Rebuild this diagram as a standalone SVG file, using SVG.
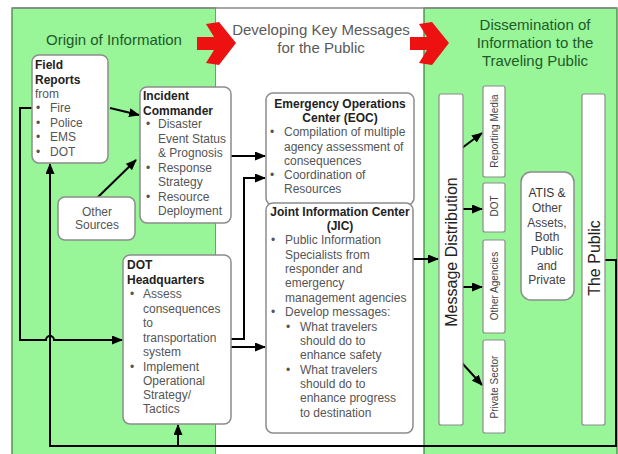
<svg xmlns="http://www.w3.org/2000/svg" width="618" height="454" viewBox="0 0 618 454">
<defs>
<style>
.panel-g{fill:#98f598;stroke:#3d7a3d;stroke-width:1.2}
.panel-w{fill:#ffffff;stroke:none}
.box{fill:#ffffff;stroke:#8c8c8c;stroke-width:1.5}
.bar{fill:#ffffff;stroke:#8c8c8c;stroke-width:1.2}
.t{font-family:"Liberation Sans",Arial,sans-serif;font-size:12px;fill:#555}
.b{font-family:"Liberation Sans",Arial,sans-serif;font-size:12px;font-weight:bold;fill:#222}
.title-g{font-family:"Liberation Sans",Arial,sans-serif;font-size:15px;fill:#1f5a2a}
.title-m{font-family:"Liberation Sans",Arial,sans-serif;font-size:15px;fill:#5a5a5a}
.vert{font-family:"Liberation Sans",Arial,sans-serif;font-size:16px;fill:#222}
.small{font-family:"Liberation Sans",Arial,sans-serif;font-size:10px;fill:#444}
.c{text-anchor:middle}
.conn{fill:none;stroke:#000;stroke-width:2}
.red{fill:#ee1111;stroke:none}
</style>
<marker id="ah" markerUnits="userSpaceOnUse" markerWidth="11" markerHeight="9" refX="10" refY="4.5" orient="auto">
<path d="M0,0 L11,4.5 L0,9 z" fill="#000"/>
</marker>
</defs>

<!-- panels -->
<g id="panels">
<rect x="0" y="0" width="618" height="454" fill="#ffffff"/>
<rect class="panel-g" x="12" y="8" width="204" height="450"/>
<rect class="panel-w" x="216" y="8" width="208" height="450"/>
<rect class="panel-g" x="424" y="8" width="193" height="450"/>
<line x1="12" y1="8" x2="617" y2="8" stroke="#888" stroke-width="1.5"/>
</g>

<!-- titles -->
<g id="titles">
<text class="title-g c" x="114" y="45">Origin of Information</text>
<text class="title-m c" x="321" y="35">Developing Key Messages</text>
<text class="title-m c" x="321" y="53">for the Public</text>
<text class="title-g c" x="535" y="30">Dissemination of</text>
<text class="title-g c" x="535" y="48">Information to the</text>
<text class="title-g c" x="535" y="66">Traveling Public</text>
</g>

<!-- red arrows -->
<g id="red-arrows">
<polygon class="red" points="197,37 214,37 206,24 219,22 236,43 219,65 206,63 214,50 197,50"/>
<polygon class="red" points="410,37 427,37 419,24 432,22 449,43 432,65 419,63 427,50 410,50"/>
</g>

<!-- connectors -->
<g id="connectors">
<line class="conn" x1="110" y1="108" x2="139" y2="115" marker-end="url(#ah)"/>
<line class="conn" x1="97" y1="198" x2="136" y2="160" marker-end="url(#ah)"/>
<path class="conn" d="M32,108 H20 V340 H46 a4,4 0 0 1 8,0 H122" marker-end="url(#ah)"/>
<path class="conn" d="M605,260 H616 V446 H50 V164" marker-end="url(#ah)"/>
<line class="conn" x1="178" y1="446" x2="178" y2="425" marker-end="url(#ah)"/>
<line class="conn" x1="231" y1="156" x2="265" y2="156" marker-end="url(#ah)"/>
<path class="conn" d="M231,339 H244 V178 H265" marker-end="url(#ah)"/>
<line class="conn" x1="231" y1="347" x2="265" y2="347" marker-end="url(#ah)"/>
<line class="conn" x1="413" y1="259" x2="438" y2="259" marker-end="url(#ah)"/>
<line class="conn" x1="462" y1="148" x2="482" y2="133" marker-end="url(#ah)"/>
<line class="conn" x1="463" y1="209" x2="482" y2="209" marker-end="url(#ah)"/>
<line class="conn" x1="463" y1="287" x2="482" y2="287" marker-end="url(#ah)"/>
<line class="conn" x1="462" y1="363" x2="482" y2="385" marker-end="url(#ah)"/>
</g>

<!-- Field Reports -->
<g id="field-reports">
<rect class="box" x="32" y="55" width="76" height="108" rx="7"/>
<text class="b" x="35" y="69">Field</text>
<text class="b" x="35" y="84">Reports</text>
<text class="t" x="35" y="98">from</text>
<text class="t" x="36" y="112">•</text><text class="t" x="50" y="112">Fire</text>
<text class="t" x="36" y="127">•</text><text class="t" x="50" y="127">Police</text>
<text class="t" x="36" y="141">•</text><text class="t" x="50" y="141">EMS</text>
<text class="t" x="36" y="156">•</text><text class="t" x="50" y="156">DOT</text>
</g>

<!-- Incident Commander -->
<g id="incident-commander">
<rect class="box" x="140" y="87" width="91" height="136" rx="7"/>
<text class="b" x="143" y="100">Incident</text>
<text class="b" x="143" y="115">Commander</text>
<text class="t" x="146" y="128">•</text><text class="t" x="158" y="128">Disaster</text>
<text class="t" x="158" y="143">Event Status</text>
<text class="t" x="158" y="157">&amp; Prognosis</text>
<text class="t" x="146" y="172">•</text><text class="t" x="158" y="172">Response</text>
<text class="t" x="158" y="186">Strategy</text>
<text class="t" x="146" y="201">•</text><text class="t" x="158" y="201">Resource</text>
<text class="t" x="158" y="215">Deployment</text>
</g>

<!-- Other Sources -->
<g id="other-sources">
<rect class="box" x="58" y="197" width="77" height="43" rx="7"/>
<text class="t c" x="97" y="216">Other</text>
<text class="t c" x="97" y="229">Sources</text>
</g>

<!-- DOT Headquarters -->
<g id="dot-hq">
<rect class="box" x="123" y="255" width="108" height="169" rx="7"/>
<text class="b" x="127" y="269">DOT</text>
<text class="b" x="127" y="284">Headquarters</text>
<text class="t" x="130" y="298">•</text><text class="t" x="143" y="298">Assess</text>
<text class="t" x="143" y="313">consequences</text>
<text class="t" x="143" y="327">to</text>
<text class="t" x="143" y="342">transportation</text>
<text class="t" x="143" y="356">system</text>
<text class="t" x="130" y="371">•</text><text class="t" x="143" y="371">Implement</text>
<text class="t" x="143" y="385">Operational</text>
<text class="t" x="143" y="399">Strategy/</text>
<text class="t" x="143" y="413">Tactics</text>
</g>

<!-- EOC -->
<g id="eoc">
<rect class="box" x="266" y="93" width="148" height="112" rx="7"/>
<text class="b c" x="340" y="108">Emergency Operations</text>
<text class="b c" x="340" y="122">Center (EOC)</text>
<text class="t" x="270" y="136">•</text><text class="t" x="284" y="136">Compilation of multiple</text>
<text class="t" x="284" y="151">agency assessment of</text>
<text class="t" x="284" y="165">consequences</text>
<text class="t" x="270" y="179">•</text><text class="t" x="284" y="179">Coordination of</text>
<text class="t" x="284" y="193">Resources</text>
</g>

<!-- JIC -->
<g id="jic">
<rect class="box" x="266" y="203" width="147" height="230" rx="7"/>
<text class="b c" x="340" y="216">Joint Information Center</text>
<text class="b c" x="340" y="230">(JIC)</text>
<text class="t" x="271" y="244">•</text><text class="t" x="285" y="244">Public Information</text>
<text class="t" x="285" y="259">Specialists from</text>
<text class="t" x="285" y="273">responder and</text>
<text class="t" x="285" y="287">emergency</text>
<text class="t" x="285" y="302">management agencies</text>
<text class="t" x="271" y="316">•</text><text class="t" x="285" y="316">Develop messages:</text>
<text class="t" x="286" y="331">•</text><text class="t" x="300" y="331">What travelers</text>
<text class="t" x="300" y="345">should do to</text>
<text class="t" x="300" y="359">enhance safety</text>
<text class="t" x="286" y="374">•</text><text class="t" x="300" y="374">What travelers</text>
<text class="t" x="300" y="388">should do to</text>
<text class="t" x="300" y="402">enhance progress</text>
<text class="t" x="300" y="417">to destination</text>
</g>

<!-- Message Distribution -->
<g id="message-distribution">
<rect class="bar" x="439" y="94" width="24" height="331" rx="2"/>
<text class="vert c" x="457" y="252" transform="rotate(-90 457 252)">Message Distribution</text>
</g>

<!-- Channels -->
<g id="reporting-media">
<rect class="bar" x="483" y="86" width="22" height="91" rx="2"/>
<text class="small c" x="497.5" y="131" transform="rotate(-90 497.5 131)">Reporting Media</text>
</g>
<g id="dot-channel">
<rect class="bar" x="483" y="183" width="22" height="49" rx="2"/>
<text class="small c" x="497.5" y="206" transform="rotate(-90 497.5 206)">DOT</text>
</g>
<g id="other-agencies">
<rect class="bar" x="483" y="240" width="22" height="93" rx="2"/>
<text class="small c" x="497.5" y="286" transform="rotate(-90 497.5 286)">Other Agencies</text>
</g>
<g id="private-sector">
<rect class="bar" x="483" y="340" width="22" height="93" rx="2"/>
<text class="small c" x="497.5" y="387" transform="rotate(-90 497.5 387)">Private Sector</text>
</g>

<!-- ATIS -->
<g id="atis">
<rect class="box" x="521" y="172" width="53" height="128" rx="10"/>
<text class="t c" x="547" y="197" style="fill:#333">ATIS &amp;</text>
<text class="t c" x="547" y="212" style="fill:#444">Other</text>
<text class="t c" x="547" y="227" style="fill:#444">Assets,</text>
<text class="t c" x="547" y="241" style="fill:#444">Both</text>
<text class="t c" x="547" y="255" style="fill:#444">Public</text>
<text class="t c" x="547" y="270" style="fill:#444">and</text>
<text class="t c" x="547" y="284" style="fill:#444">Private</text>
</g>

<!-- The Public -->
<g id="the-public">
<rect class="bar" x="582" y="94" width="23" height="331" rx="2"/>
<text class="vert c" x="600" y="258" transform="rotate(-90 600 258)">The Public</text>
</g>
</svg>
